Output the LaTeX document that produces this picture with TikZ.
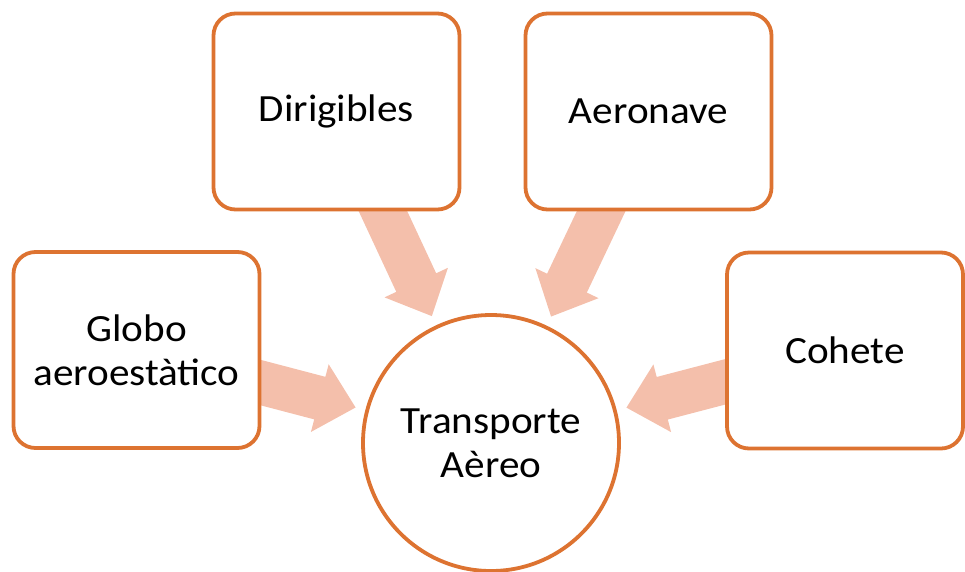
\documentclass[tikz,border=0pt]{standalone}
\usepackage{fontspec}
\setmainfont{Carlito}[FakeStretch=1.07]
\usetikzlibrary{calc,backgrounds}
\definecolor{edgeorange}{HTML}{DD7331}
\definecolor{arrowfill}{HTML}{F4BFAB}
\tikzset{
  itembox/.style={draw=edgeorange, line width=3.8pt, fill=white, rounded corners=22pt,
    minimum width=246pt, minimum height=196pt, inner sep=0pt, outer sep=0pt,
    align=center, font=\fontsize{38.5}{44}\selectfont},
  hubcircle/.style={draw=edgeorange, line width=3.8pt, fill=white, circle,
    minimum size=256pt, inner sep=0pt, outer sep=0pt,
    align=center, font=\fontsize{38.5}{44}\selectfont},
  blockarrow/.style={fill=arrowfill, draw=none}
}
% fat arrow from box #1 towards the hub #2, tip 140pt from the hub centre
\newcommand{\fatarrow}[2]{%
  \fill[blockarrow]
    ($(#1.center)!22pt!90:(#2.center)$) --
    ($($(#2.center)!177pt!(#1.center)$)!22pt!90:(#2.center)$) --
    ($($(#2.center)!177pt!(#1.center)$)!35pt!90:(#2.center)$) --
    ($(#2.center)!140pt!(#1.center)$) --
    ($($(#2.center)!177pt!(#1.center)$)!35pt!-90:(#2.center)$) --
    ($($(#2.center)!177pt!(#1.center)$)!22pt!-90:(#2.center)$) --
    ($(#1.center)!22pt!-90:(#2.center)$) -- cycle;}
\begin{document}
\begin{tikzpicture}[x=1pt, y=-1pt]
  \useasboundingbox (0,0) rectangle (965,571);
  \node[hubcircle] (hub) at (491,443) {Transporte\\Aèreo};
  \node[itembox] (globo) at (136.5,350) {Globo\\aeroestàtico};
  \node[itembox] (diri) at (336.5,111.5) {Dirigibles};
  \node[itembox] (aero) at (648.5,111.5) {Aeronave};
  \node[itembox, minimum width=236pt] (cohete) at (845,350.5) {Cohete};
  % arrows sit underneath the boxes
  \begin{pgfonlayer}{background}
    \fatarrow{globo}{hub}
    \fatarrow{diri}{hub}
    \fatarrow{aero}{hub}
    \fatarrow{cohete}{hub}
  \end{pgfonlayer}
\end{tikzpicture}
\end{document}
